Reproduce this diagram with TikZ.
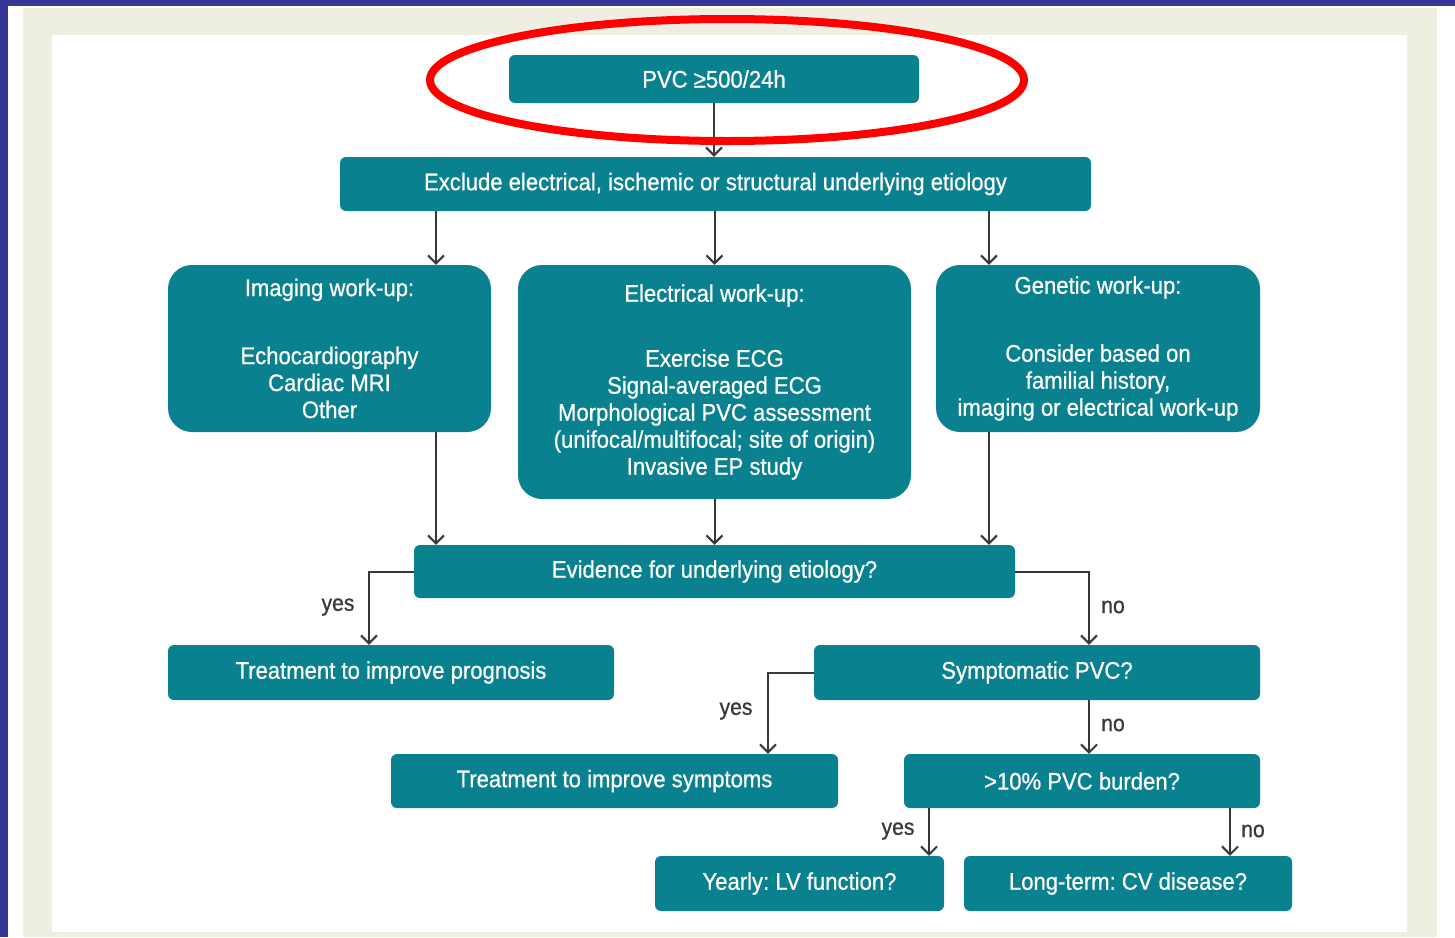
\documentclass[tikz,border=0pt]{standalone}
\usepackage{fontspec}
\setmainfont{Liberation Sans}[FakeStretch=0.92]
\newfontfamily\boxfont{Liberation Sans}[FakeStretch=0.92,FakeBold=0.7]
\usepackage{tikz}
\usetikzlibrary{arrows.meta}
\frenchspacing
\definecolor{teal}{HTML}{0A818F}
\definecolor{frameblue}{HTML}{363699}
\definecolor{beige}{HTML}{EEEEE1}
\definecolor{wire}{HTML}{383838}
\tikzset{
  box/.style={fill=teal,rounded corners=6pt,text=white,inner sep=0pt,
    font=\boxfont\fontsize{24}{27}\selectfont,align=center},
  bigbox/.style={box,rounded corners=24pt},
  arr/.style={draw=wire,line width=2pt,-{Straight Barb[length=8pt,width=16pt,line width=2pt]}},
  lbl/.style={text=wire,font=\boxfont\fontsize{23}{26}\selectfont}
}
\begin{document}
\begin{tikzpicture}[x=1pt,y=-1pt]
		\useasboundingbox (0,0) rectangle (1455,937);
		\fill[white](0,0)rectangle(1455,937);
		\fill[beige](23,8)rectangle(1437,937);
		\fill[white](52,35)rectangle(1407,932);
		\fill[frameblue](0,0)rectangle(8,937);
		\fill[frameblue](0,0)rectangle(1455,6);
		\coordinate (colA) at (436,0);
		\coordinate (colB) at (989,0);
		\coordinate (colC) at (369,0);
		\coordinate (colD) at (1089,0);
		\coordinate (colE) at (768,0);
		\coordinate (colF) at (929,0);
		\coordinate (colG) at (1230,0);
		\node[box,minimum width=410,minimum height=48] (pvc) at (714,79) {PVC ≥500/24h};
		\node[box,minimum width=751,minimum height=54] (excl) at (715.5,184) {Exclude electrical, ischemic or structural underlying etiology};
		\node[bigbox,minimum width=323,minimum height=167] (imaging) at (329.5,348.5) {Imaging work-up:\\[41pt]Echocardiography\\Cardiac MRI\\Other};
		\node[bigbox,minimum width=393,minimum height=234] (electrical) at (714.5,382) {Electrical work-up:\\[38pt]Exercise ECG\\Signal-averaged ECG\\Morphological PVC assessment\\(unifocal/multifocal; site of origin)\\Invasive EP study};
		\node[bigbox,minimum width=324,minimum height=167] (genetic) at (1098,348.5) {Genetic work-up:\\[41pt]Consider based on\\familial history,\\imaging or electrical work-up};
		\node[box,minimum width=601,minimum height=53] (evidence) at (714.5,571.5) {Evidence for underlying etiology?};
		\node[box,minimum width=446,minimum height=55] (progn) at (391,672.5) {Treatment to improve prognosis};
		\node[box,minimum width=446,minimum height=55] (sympt) at (1037,672.5) {Symptomatic PVC?};
		\node[box,minimum width=447,minimum height=54] (sympttreat) at (614.5,781) {Treatment to improve symptoms};
		\node[box,minimum width=356,minimum height=54] (burden) at (1082,781) {>10\% PVC burden?};
		\node[box,minimum width=289,minimum height=55] (yearly) at (799.5,883.5) {Yearly: LV function?};
		\node[box,minimum width=328,minimum height=55] (longterm) at (1128,883.5) {Long-term: CV disease?};
		\draw[arr](pvc.south)--(excl.north -| pvc.south);
		\draw[arr](excl.south -| colA)--(imaging.north -| colA);
		\draw[arr](excl.south -| electrical.north)--(electrical.north);
		\draw[arr](excl.south -| colB)--(genetic.north -| colB);
		\draw[arr](imaging.south -| colA)--(evidence.north -| colA);
		\draw[arr](electrical.south)--(evidence.north -| electrical.south);
		\draw[arr](genetic.south -| colB)--(evidence.north -| colB);
		\draw[arr](evidence.west)-|(progn.north -| colC);
		\draw[arr](evidence.east)-|(sympt.north -| colD);
		\draw[arr](sympt.west)-|(sympttreat.north -| colE);
		\draw[arr](sympt.south -| colD)--(burden.north -| colD);
		\draw[arr](burden.south -| colF)--(yearly.north -| colF);
		\draw[arr](burden.south -| colG)--(longterm.north -| colG);
		\node[lbl] (yes1) at (338,607) {yes};
		\node[lbl] (no1) at (1113,607) {no};
		\node[lbl] (yes2) at (736,711) {yes};
		\node[lbl] (no2) at (1113,725) {no};
		\node[lbl] (yes3) at (898,831) {yes};
		\node[lbl] (no3) at (1253,831) {no};
		\draw[red,line width=8pt](727,80)ellipse(297 and 61);
	\end{tikzpicture}
\end{document}
